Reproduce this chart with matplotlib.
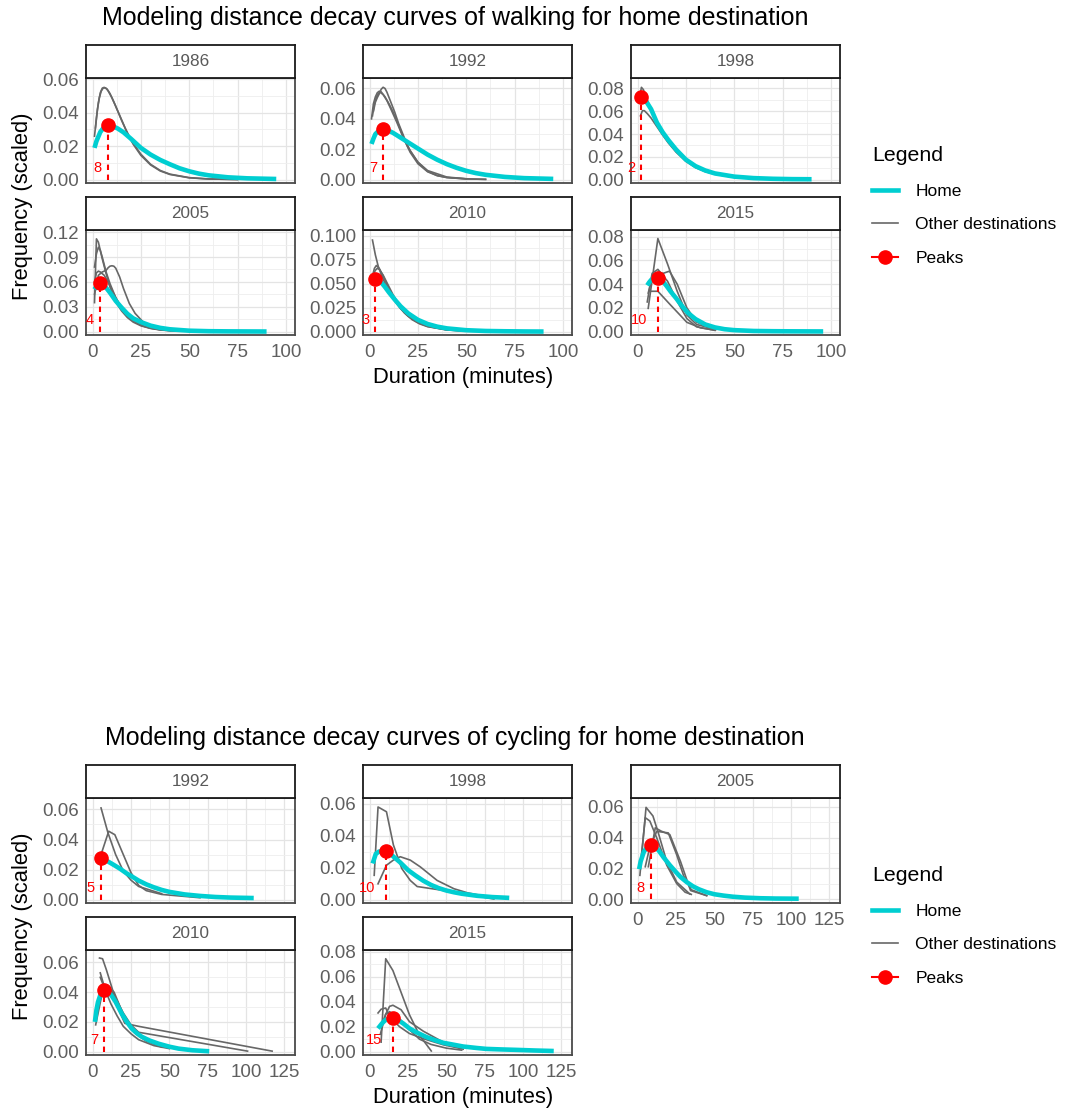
import matplotlib
matplotlib.use("Agg")
import matplotlib.pyplot as plt
from matplotlib.lines import Line2D
from matplotlib.ticker import MultipleLocator, AutoMinorLocator, FormatStrFormatter

plt.rcParams['font.family'] = ['Liberation Sans', 'DejaVu Sans']

HOME_COLOR = "#00CED1"
OTHER_COLOR = "#676767"
PEAK_COLOR = "#FF0000"

# ======== WALKING DATA =========
walk_years = ["1986", "1992", "1998", "2005", "2010", "2015"]

w1986_home = ([1, 2, 4, 6, 8, 10, 13, 16, 20, 25, 30, 35, 40, 45, 50, 55, 60, 70, 80, 95],
              [0.019, 0.023, 0.0285, 0.0315, 0.0325, 0.0322, 0.0306, 0.0283, 0.0243, 0.0190, 0.0150, 0.0118,
               0.0092, 0.0068, 0.0050, 0.0036, 0.0026, 0.0014, 0.0008, 0.0004])
w1986_other = [
    ([1, 2, 3, 4, 5, 6, 7, 8, 10, 12, 15, 18, 21, 25, 30, 35, 40, 50, 60, 75],
     [0.026, 0.037, 0.046, 0.052, 0.0547, 0.0552, 0.0546, 0.0532, 0.049, 0.0438, 0.0355, 0.0278, 0.0212,
      0.0145, 0.0088, 0.0052, 0.0031, 0.0011, 0.0004, 0.0001]),
    ([1.5, 2.5, 3.5, 4.5, 5.5, 6.5, 7.5, 9, 11, 14, 17, 20, 25, 30, 35, 40, 50, 60, 75],
     [0.031, 0.042, 0.049, 0.053, 0.0548, 0.0549, 0.0542, 0.0515, 0.0465, 0.0385, 0.0305, 0.0235, 0.0152,
      0.0092, 0.0055, 0.0033, 0.0012, 0.0004, 0.0001]),
]

w1992_home = ([1, 2, 3, 5, 7, 9, 12, 15, 19, 25, 30, 35, 40, 45, 50, 55, 60, 70, 80, 95],
              [0.0235, 0.027, 0.030, 0.0325, 0.0333, 0.0327, 0.0309, 0.0285, 0.0253, 0.0205, 0.0165, 0.0131,
               0.0102, 0.0078, 0.0058, 0.0043, 0.0032, 0.0018, 0.0010, 0.0005])
w1992_other = [
    ([1, 2, 3, 4, 5, 6, 8, 10, 12, 15, 18, 21, 25, 30, 35, 40, 50, 60],
     [0.040, 0.050, 0.0545, 0.0572, 0.0582, 0.0578, 0.0545, 0.050, 0.045, 0.036, 0.026, 0.018, 0.0105,
      0.0052, 0.0026, 0.0014, 0.0005, 0.0002]),
    ([2, 3, 4, 5, 6, 7, 8, 9, 11, 13, 15, 18, 21, 25, 30, 35, 40, 50, 60],
     [0.045, 0.051, 0.054, 0.0565, 0.0595, 0.0608, 0.0600, 0.0575, 0.051, 0.0445, 0.037, 0.0275, 0.019,
      0.0115, 0.0055, 0.0027, 0.0014, 0.0005, 0.0002]),
    ([1.5, 2.5, 3.5, 4.5, 5.5, 7, 9, 11, 14, 17, 20, 25, 30, 40, 50],
     [0.042, 0.050, 0.054, 0.0565, 0.0575, 0.056, 0.052, 0.0465, 0.038, 0.029, 0.021, 0.0115, 0.006,
      0.0017, 0.0006]),
]

w1998_home = ([1.5, 2, 3, 5, 7, 10, 13, 16, 20, 25, 30, 35, 40, 50, 60, 70, 80, 90],
              [0.071, 0.0728, 0.0718, 0.0672, 0.0618, 0.050, 0.0415, 0.0345, 0.0262, 0.0175, 0.0118, 0.0080,
               0.0054, 0.0026, 0.0013, 0.0007, 0.0004, 0.0003])
w1998_other = [
    ([1, 2, 3, 5, 7, 10, 13, 16, 20, 25, 30, 35, 40, 50, 60],
     [0.072, 0.081, 0.079, 0.070, 0.061, 0.049, 0.040, 0.033, 0.0245, 0.0165, 0.011, 0.0073, 0.005, 0.0022,
      0.001]),
    ([1.5, 2.5, 3.5, 5, 7, 10, 13, 16, 20, 25, 30, 35, 40, 50],
     [0.056, 0.0605, 0.0605, 0.058, 0.054, 0.0465, 0.039, 0.032, 0.024, 0.016, 0.0105, 0.007, 0.0047,
      0.002]),
]

w2005_home = ([1, 2, 3, 4, 5, 7, 9, 12, 15, 18, 21, 25, 30, 35, 40, 50, 60, 70, 80, 90],
              [0.051, 0.055, 0.0575, 0.0583, 0.0575, 0.053, 0.047, 0.037, 0.029, 0.0215, 0.016, 0.0115, 0.0072,
               0.0045, 0.0028, 0.0011, 0.0005, 0.0003, 0.0002, 0.0001])
w2005_other = [
    ([1, 2, 3, 4, 5, 7, 9, 11, 13, 15, 18, 21, 25, 30, 35, 40, 45],
     [0.035, 0.112, 0.108, 0.098, 0.088, 0.070, 0.054, 0.042, 0.032, 0.025, 0.017, 0.0115, 0.007, 0.0038,
      0.002, 0.0011, 0.0006]),
    ([1, 2, 3, 4, 5, 7, 9, 12, 15, 18, 22, 26, 30, 35, 40, 50],
     [0.078, 0.094, 0.102, 0.098, 0.090, 0.072, 0.058, 0.041, 0.028, 0.019, 0.0115, 0.0068, 0.0042, 0.0024,
      0.0014, 0.0005]),
    ([1, 2, 3, 4, 6, 8, 10, 12, 15, 18, 22, 26, 30, 35, 40, 50],
     [0.060, 0.071, 0.073, 0.072, 0.068, 0.060, 0.050, 0.041, 0.029, 0.020, 0.012, 0.007, 0.0042, 0.0022,
      0.0012, 0.0004]),
    ([1, 3, 5, 7, 8, 9, 10, 11, 12, 14, 16, 19, 22, 26, 30, 35, 40],
     [0.045, 0.068, 0.072, 0.074, 0.077, 0.079, 0.0795, 0.079, 0.0765, 0.066, 0.052, 0.034, 0.022, 0.012,
      0.0065, 0.003, 0.0015]),
]

w2010_home = ([2, 3, 4, 6, 8, 10, 13, 16, 20, 25, 30, 35, 40, 50, 60, 70, 80, 90],
              [0.0515, 0.0554, 0.0548, 0.0515, 0.0465, 0.041, 0.0335, 0.0265, 0.019, 0.0123, 0.0080, 0.0052,
               0.0034, 0.0015, 0.0007, 0.0004, 0.0002, 0.0001])
w2010_other = [
    ([1.5, 3, 4.5, 6, 8, 10, 13, 16, 20, 25, 30, 40, 50, 60],
     [0.0955, 0.080, 0.068, 0.060, 0.050, 0.042, 0.032, 0.024, 0.016, 0.0095, 0.0055, 0.0018, 0.0006,
      0.0002]),
    ([1.5, 2.5, 3.5, 5, 7, 9, 12, 15, 18, 22, 26, 30, 40, 50, 65],
     [0.058, 0.066, 0.069, 0.066, 0.058, 0.049, 0.037, 0.027, 0.0195, 0.0125, 0.008, 0.0052, 0.0018, 0.0006,
      0.0002]),
    ([2, 3, 4, 5, 7, 9, 12, 15, 18, 22, 26, 30, 40, 50, 70],
     [0.060, 0.064, 0.066, 0.065, 0.059, 0.051, 0.039, 0.029, 0.021, 0.0135, 0.0088, 0.0058, 0.002, 0.0007,
      0.0002]),
]

w2015_home = ([5, 6, 7, 8, 9, 10.5, 11, 13, 15, 17, 20, 23, 26, 30, 35, 40, 45, 50, 60, 70, 80, 96],
              [0.039, 0.0415, 0.0435, 0.0448, 0.0455, 0.0456, 0.0452, 0.0425, 0.0385, 0.034, 0.028, 0.0215,
               0.0158, 0.0105, 0.0060, 0.0035, 0.0020, 0.0012, 0.0005, 0.0003, 0.0002, 0.0001])
w2015_other = [
    ([5.5, 10.5, 15.5, 20.5, 25.5, 30.5, 40.5],
     [0.0196, 0.0785, 0.057, 0.034, 0.014, 0.006, 0.0017]),
    ([5, 7.5, 10.5, 15.5, 20.5, 25.5, 30.5, 40],
     [0.025, 0.049, 0.0525, 0.0425, 0.0255, 0.011, 0.004, 0.001]),
    ([5.5, 8, 10.5, 13, 16.5, 20.5, 25.5, 30.5, 40],
     [0.0325, 0.048, 0.050, 0.049, 0.051, 0.040, 0.020, 0.008, 0.0015]),
    ([6.5, 10.5, 17, 25.5, 32.5, 40],
     [0.034, 0.034, 0.0225, 0.0078, 0.0032, 0.0012]),
]

walk_home = [w1986_home, w1992_home, w1998_home, w2005_home, w2010_home, w2015_home]
walk_other = [w1986_other, w1992_other, w1998_other, w2005_other, w2010_other, w2015_other]
walk_peak_x = [8, 7, 2, 4, 3, 10.5]
walk_peak_y = [0.0325, 0.0333, 0.0728, 0.0583, 0.0554, 0.0456]
walk_peak_labels = ["8", "7", "2", "4", "3", "10"]
walk_ylims = [(-0.002, 0.0608), (-0.0022, 0.0669), (-0.003, 0.0892),
              (-0.0041, 0.1227), (-0.0035, 0.106), (-0.0029, 0.0857)]
walk_ysteps = [0.02, 0.02, 0.02, 0.03, 0.025, 0.02]

# ======== CYCLING DATA =========
cycle_years = ["1992", "1998", "2005", "2010", "2015"]

c1992_home = ([5.5, 8, 11, 14, 18, 22, 26, 30, 35, 40, 45, 50, 60, 70, 80, 90, 105],
              [0.0275, 0.0265, 0.0248, 0.0230, 0.0205, 0.0176, 0.0152, 0.0127, 0.0102, 0.0082, 0.0065, 0.0052,
               0.0035, 0.0025, 0.0018, 0.0014, 0.0011])
c1992_other = [
    ([5.5, 10, 15, 20, 25, 30, 45],
     [0.061, 0.0445, 0.030, 0.019, 0.013, 0.0088, 0.004]),
    ([5.5, 10.5, 14.5, 20, 25, 30, 35, 45, 70],
     [0.030, 0.0455, 0.0432, 0.030, 0.018, 0.0095, 0.006, 0.0035, 0.0013]),
]

c1998_home = ([2, 4, 6, 8, 10.5, 13, 16, 20, 25, 30, 35, 40, 45, 50, 55, 60, 70, 80, 91],
              [0.0226, 0.0285, 0.0300, 0.0303, 0.0306, 0.029, 0.0265, 0.0232, 0.0185, 0.0150, 0.0118, 0.0092,
               0.0072, 0.0057, 0.0046, 0.0037, 0.0024, 0.0016, 0.0011])
c1998_other = [
    ([3, 5.5, 11, 15.5, 21, 26.5, 31, 45, 62, 81],
     [0.0152, 0.0579, 0.0549, 0.0342, 0.0194, 0.012, 0.0082, 0.0062, 0.0036, 0.0004]),
    ([5.5, 11, 15.5, 20, 26.5, 33, 44, 55, 64, 79],
     [0.0099, 0.0215, 0.0247, 0.0268, 0.0247, 0.0205, 0.012, 0.0068, 0.0042, 0.0015]),
]

c2005_home = ([1, 2, 4, 6, 8.5, 11, 14, 17, 21, 25, 28, 32, 36, 40, 45, 50, 56, 62, 70, 80, 90, 105],
              [0.0194, 0.0245, 0.0305, 0.0335, 0.0351, 0.0345, 0.0312, 0.027, 0.022, 0.0175, 0.0143, 0.0110,
               0.0083, 0.0063, 0.0044, 0.0031, 0.0022, 0.0015, 0.0009, 0.0005, 0.0003, 0.0002])
c2005_other = [
    ([1.5, 5.5, 10, 13.5, 19, 25.5, 34],
     [0.0154, 0.0596, 0.054, 0.043, 0.0243, 0.011, 0.0033]),
    ([2.5, 5, 8, 12.5, 19, 25.5, 31, 35],
     [0.0287, 0.0529, 0.0507, 0.0397, 0.022, 0.010, 0.0044, 0.003]),
    ([7, 11.5, 15.5, 21, 28, 34.5, 45],
     [0.021, 0.0463, 0.0441, 0.0419, 0.0243, 0.0055, 0.0022]),
    ([5, 8, 12.5, 20, 25.5, 30, 35, 45],
     [0.021, 0.034, 0.044, 0.043, 0.0287, 0.015, 0.006, 0.0022]),
]

c2010_home = ([1.5, 2.5, 3.5, 5, 6.5, 7.5, 10, 12.5, 15, 19, 22, 25.5, 29, 32, 37, 43, 50, 56, 65, 76],
              [0.020, 0.028, 0.0333, 0.038, 0.0405, 0.0414, 0.0405, 0.0375, 0.0335, 0.0255, 0.0205, 0.0155,
               0.0122, 0.0100, 0.0075, 0.0053, 0.0033, 0.0020, 0.0009, 0.0002])
c2010_other = [
    ([4.5, 6.5, 9, 12, 15, 18, 21, 30, 117],
     [0.063, 0.0625, 0.055, 0.045, 0.035, 0.026, 0.019, 0.017, 0.0003]),
    ([5, 7, 10, 12, 15, 20, 25, 30, 101],
     [0.053, 0.046, 0.042, 0.041, 0.036, 0.026, 0.018, 0.013, 0.0003]),
    ([2, 4, 6, 8, 10, 14, 18, 22, 27, 35, 45],
     [0.018, 0.028, 0.038, 0.043, 0.044, 0.04, 0.03, 0.02, 0.013, 0.007, 0.003]),
    ([5, 8, 12, 16, 20, 25, 30, 40, 50],
     [0.05, 0.042, 0.032, 0.024, 0.017, 0.012, 0.008, 0.004, 0.002]),
]

c2015_home = ([5.5, 8, 10, 12.5, 15, 18, 22, 26, 30, 37, 43, 48, 55, 61, 70, 76, 85, 96, 108, 120],
              [0.0186, 0.0225, 0.025, 0.0265, 0.0268, 0.0258, 0.0225, 0.0186, 0.0158, 0.0117, 0.009, 0.0071,
               0.0055, 0.0041, 0.0029, 0.0022, 0.0018, 0.0014, 0.0009, 0.0005])
c2015_other = [
    ([7.5, 10.5, 15.2, 26, 32.6, 40.2],
     [0.0076, 0.0745, 0.065, 0.0295, 0.013, 0.0005]),
    ([5.5, 7.5, 10.5, 13, 19.5, 26, 35, 48, 61],
     [0.031, 0.034, 0.035, 0.0281, 0.020, 0.0145, 0.0104, 0.0055, 0.002]),
    ([7, 10.5, 13, 15.2, 20.5, 26, 35, 48, 61, 78],
     [0.014, 0.030, 0.0363, 0.0372, 0.0336, 0.024, 0.0164, 0.0076, 0.0035, 0.0014]),
    ([8, 10.5, 13, 16, 20.5, 26, 32.5, 40, 50, 60],
     [0.022, 0.030, 0.032, 0.030, 0.025, 0.0175, 0.010, 0.0058, 0.0028, 0.0012]),
]

cycle_home = [c1992_home, c1998_home, c2005_home, c2010_home, c2015_home]
cycle_other = [c1992_other, c1998_other, c2005_other, c2010_other, c2015_other]
cycle_peak_x = [5.5, 10.5, 8.5, 7.5, 15]
cycle_peak_y = [0.0275, 0.0306, 0.0351, 0.0414, 0.0268]
cycle_peak_labels = ["5", "10", "8", "7", "15"]
cycle_ylims = [(-0.0022, 0.0676), (-0.0021, 0.0635), (-0.0026, 0.0657),
               (-0.0023, 0.0684), (-0.0027, 0.0815)]
cycle_ysteps = [0.02, 0.02, 0.02, 0.02, 0.02]

walk_title = "Modeling distance decay curves of walking for home destination"
cycle_title = "Modeling distance decay curves of cycling for home destination"

# ======== LAYOUT =========
W, H = 1065, 1110
fig = plt.figure(figsize=(W / 100, H / 100), dpi=100)

COL_LEFT = [86, 363, 631]
PANEL_W = 209
PANEL_H = 105
STRIP_H = 33
ROW_TOP = [78, 230]
BLOCK_OFFSET = 720


def px_axes(left, top, width, height):
    return fig.add_axes([left / W, 1 - (top + height) / H, width / W, height / H])


def draw_panel(idx, block, year, home, others, px, py, plabel, xlim, ylim, ystep, xticks, show_xlabels):
    row, col = divmod(idx, 3)
    top = ROW_TOP[row] + block * BLOCK_OFFSET
    left = COL_LEFT[col]
    ax = px_axes(left, top, PANEL_W, PANEL_H)
    strip = px_axes(left, top - STRIP_H, PANEL_W, STRIP_H)

    # strip
    strip.set_xticks([])
    strip.set_yticks([])
    for s in strip.spines.values():
        s.set_color("#1a1a1a")
        s.set_linewidth(1.3)
    strip.text(0.5, 0.5, year, ha="center", va="center", fontsize=12.3, color="#595959",
               transform=strip.transAxes)

    # curves
    for ox, oy in others:
        ax.plot(ox, oy, color=OTHER_COLOR, lw=1.2, zorder=2, solid_joinstyle="round")
    ax.plot(home[0], home[1], color=HOME_COLOR, lw=3.3, zorder=3, solid_capstyle="butt")
    ax.vlines(px, 0, py, colors=PEAK_COLOR, linestyles=(0, (2.6, 2.2)), lw=1.5, zorder=4)
    ax.plot([px], [py], "o", color=PEAK_COLOR, markersize=9.5, zorder=5)
    tw = 0.556 * 10.5 * len(plabel)
    ax.annotate(plabel, xy=(px, 0.14), xycoords=("data", "axes fraction"),
                xytext=(-(0.5 * tw + 1.5), 0), textcoords="offset points",
                ha="right", va="center", color=PEAK_COLOR, fontsize=10.5)

    ax.set_xlim(xlim)
    ax.set_ylim(ylim)
    ax.set_xticks(xticks)
    ax.xaxis.set_minor_locator(AutoMinorLocator(2))
    ax.yaxis.set_major_locator(MultipleLocator(ystep))
    ax.yaxis.set_minor_locator(AutoMinorLocator(2))
    dec = 3 if round(ystep * 100, 6) != int(round(ystep * 100)) else 2
    ax.yaxis.set_major_formatter(FormatStrFormatter("%%.%df" % dec))
    ax.grid(True, which="major", color="#E4E4E4", lw=0.9)
    ax.grid(True, which="minor", color="#EEEEEE", lw=0.6)
    ax.set_axisbelow(True)
    ax.tick_params(which="both", length=0, labelsize=13.5, labelcolor="#5f5f5f")
    ax.tick_params(axis="y", pad=5)
    ax.tick_params(axis="x", pad=6.5, labelbottom=show_xlabels)
    for s in ax.spines.values():
        s.set_color("#4a4a4a")
        s.set_linewidth(1.3)
    return ax


legend_handles = [
    Line2D([], [], color=HOME_COLOR, lw=3.3),
    Line2D([], [], color=OTHER_COLOR, lw=1.2),
    Line2D([], [], color=PEAK_COLOR, lw=1.5, marker="o", markersize=9.5),
]
legend_labels = ["Home", "Other destinations", "Peaks"]

blocks = [
    (walk_title, walk_years, walk_home, walk_other, walk_peak_x, walk_peak_y, walk_peak_labels,
     walk_ylims, walk_ysteps, (-3.4, 104.7), [0, 25, 50, 75, 100]),
    (cycle_title, cycle_years, cycle_home, cycle_other, cycle_peak_x, cycle_peak_y, cycle_peak_labels,
     cycle_ylims, cycle_ysteps, (-4.3, 131.9), [0, 25, 50, 75, 100, 125]),
]

for b, (title, years, homes, others, pxs, pys, plabels, ylims, ysteps, xlim, xticks) in enumerate(blocks):
    n = len(years)
    for i in range(n):
        row = i // 3
        show = row == 1 or (i + 3 >= n)
        draw_panel(i, b, years[i], homes[i], others[i], pxs[i], pys[i], plabels[i],
                   xlim, ylims[i], ysteps[i], xticks, show)

    off = b * BLOCK_OFFSET
    fig.text(455 / W, 1 - (18 + off) / H, title, ha="center", va="center", fontsize=18)
    fig.text(463 / W, 1 - (377 + off) / H, "Duration (minutes)", ha="center", va="center", fontsize=15.8)
    fig.text(23 / W, 1 - (206.5 + off) / H, "Frequency (scaled)", ha="center", va="center",
             rotation=90, fontsize=15.8)
    fig.legend(legend_handles, legend_labels, loc="upper left",
               bbox_to_anchor=(872 / W, 1 - (146 + off) / H), frameon=False,
               title="Legend", title_fontsize=15.3, fontsize=12.5, handlelength=1.5,
               handletextpad=1.0, labelspacing=1.07, borderpad=0, borderaxespad=0,
               alignment="left")

fig.savefig("out.png", dpi=100)
